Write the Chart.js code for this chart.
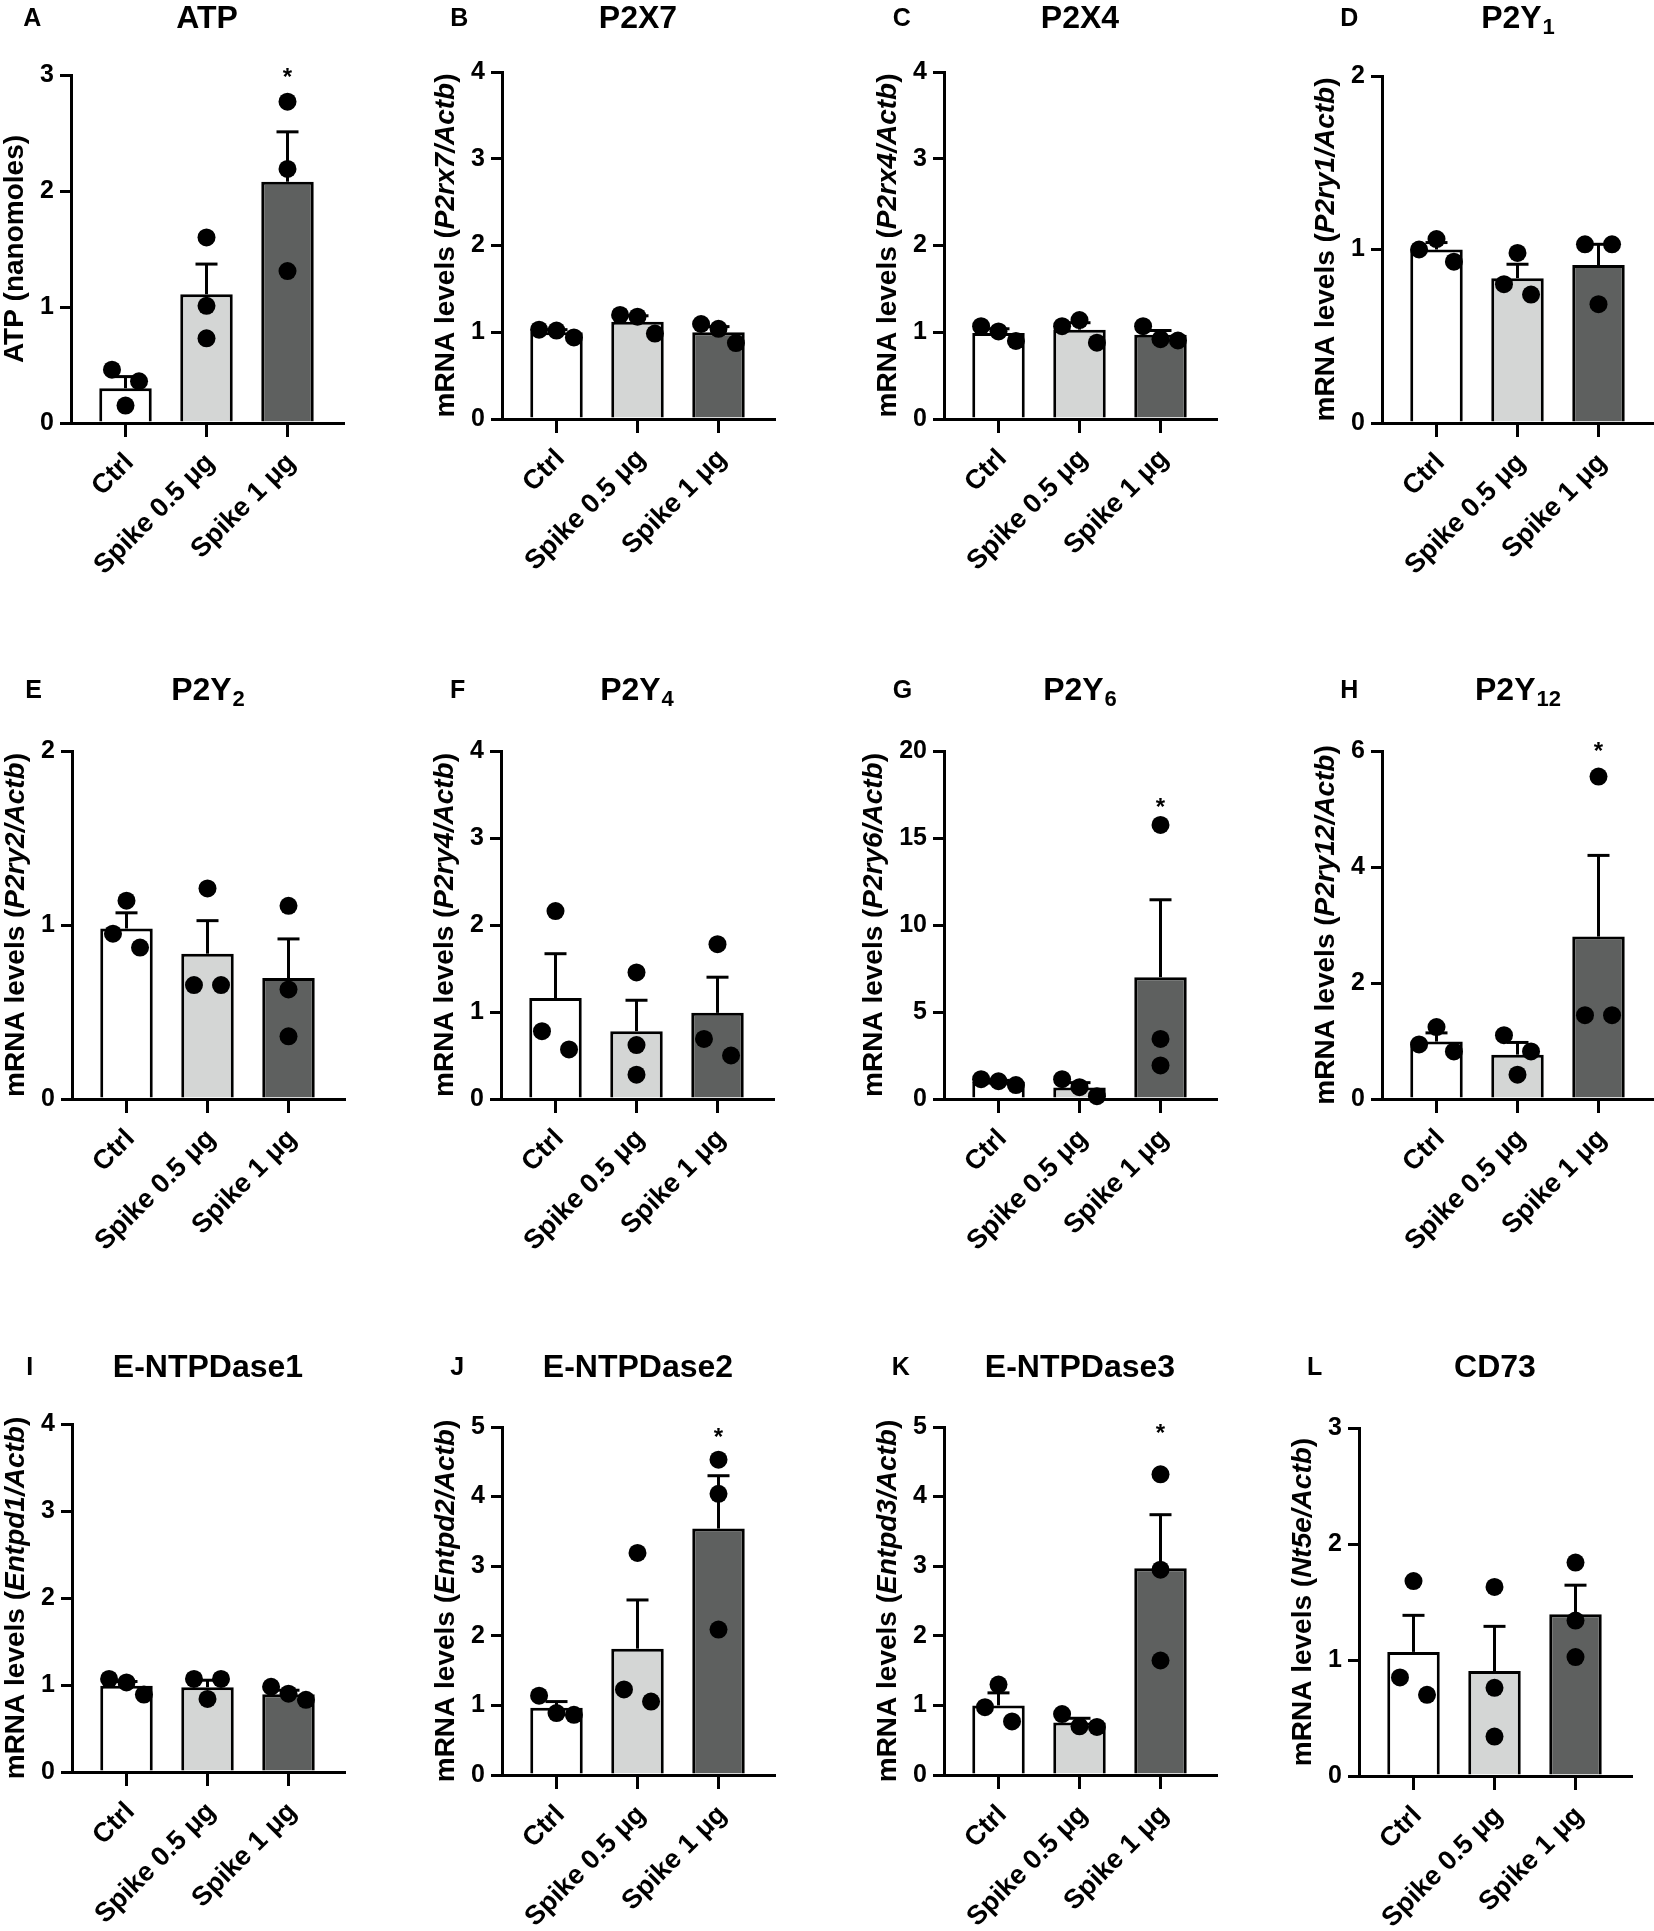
<!DOCTYPE html>
<html>
<head>
<meta charset="utf-8">
<script src="https://cdn.jsdelivr.net/npm/chart.js@4/dist/chart.umd.min.js"></script>
<style>
html,body{margin:0;padding:0;background:#fff;}
body{position:relative;width:1654px;height:1931px;overflow:hidden;}
.panel{position:absolute;}
.panel canvas{display:block;}
</style>
</head>
<body>
<script>
// ---------------- DATA ----------------
const groups = ['Ctrl', 'Spike 0.5 μg', 'Spike 1 μg'];

// A: ATP
const atpTicks  = [0, 1, 2, 3];
const atpMeans  = [0.30, 1.11, 2.08];
const atpSem    = [0.10, 0.26, 0.43];
const atpPoints = [[0.46, 0.15, 0.36], [1.60, 1.01, 0.73], [2.77, 2.19, 1.31]];
const atpStars  = [null, null, 3.03];

// B: P2X7
const p2x7Ticks  = [0, 1, 2, 3, 4];
const p2x7Means  = [1.00, 1.12, 1.00];
const p2x7Sem    = [0.03, 0.07, 0.065];
const p2x7Points = [[1.03, 1.02, 0.94], [1.20, 1.18, 0.985], [1.095, 1.04, 0.875]];
const p2x7Stars  = [null, null, null];

// C: P2X4
const p2x4Ticks  = [0, 1, 2, 3, 4];
const p2x4Means  = [0.99, 1.03, 0.97];
const p2x4Sem    = [0.05, 0.08, 0.05];
const p2x4Points = [[1.07, 1.01, 0.90], [1.07, 1.14, 0.88], [1.07, 0.92, 0.905]];
const p2x4Stars  = [null, null, null];

// D: P2Y1
const p2y1Ticks  = [0, 1, 2];
const p2y1Means  = [1.00, 0.835, 0.91];
const p2y1Sem    = [0.04, 0.08, 0.12];
const p2y1Points = [[1.00, 1.06, 0.93], [0.80, 0.98, 0.74], [1.03, 0.685, 1.03]];
const p2y1Stars  = [null, null, null];

// E: P2Y2
const p2y2Ticks  = [0, 1, 2];
const p2y2Means  = [0.98, 0.835, 0.695];
const p2y2Sem    = [0.09, 0.19, 0.225];
const p2y2Points = [[0.95, 1.14, 0.87], [0.655, 1.21, 0.655], [1.11, 0.63, 0.36]];
const p2y2Stars  = [null, null, null];

// F: P2Y4
const p2y4Ticks  = [0, 1, 2, 3, 4];
const p2y4Means  = [1.16, 0.78, 0.99];
const p2y4Sem    = [0.51, 0.355, 0.41];
const p2y4Points = [[0.78, 2.16, 0.57], [1.455, 0.62, 0.28], [0.69, 1.78, 0.50]];
const p2y4Stars  = [null, null, null];

// G: P2Y6
const p2y6Ticks  = [0, 5, 10, 15, 20];
const p2y6Means  = [0.99, 0.66, 7.0];
const p2y6Sem    = [0.08, 0.28, 4.45];
const p2y6Points = [[1.14, 1.02, 0.80], [1.14, 0.68, 0.16], [15.75, 3.45, 1.93]];
const p2y6Stars  = [null, null, 17.1];

// H: P2Y12
const p2y12Ticks  = [0, 2, 4, 6];
const p2y12Means  = [0.99, 0.765, 2.80];
const p2y12Sem    = [0.15, 0.21, 1.40];
const p2y12Points = [[0.94, 1.24, 0.82], [1.10, 0.42, 0.82], [1.445, 5.56, 1.445]];
const p2y12Stars  = [null, null, 6.1];

// I: E-NTPDase1
const entpd1Ticks  = [0, 1, 2, 3, 4];
const entpd1Means  = [0.99, 0.975, 0.895];
const entpd1Sem    = [0.05, 0.08, 0.045];
const entpd1Points = [[1.07, 1.03, 0.89], [1.07, 1.07, 0.84], [0.98, 0.90, 0.83]];
const entpd1Stars  = [null, null, null];

// J: E-NTPDase2
const entpd2Ticks  = [0, 1, 2, 3, 4, 5];
const entpd2Means  = [0.965, 1.815, 3.54];
const entpd2Sem    = [0.09, 0.70, 0.76];
const entpd2Points = [[1.14, 0.89, 0.865], [1.23, 3.19, 1.055], [4.53, 4.04, 2.09]];
const entpd2Stars  = [null, null, 4.94];

// K: E-NTPDase3
const entpd3Ticks  = [0, 1, 2, 3, 4, 5];
const entpd3Means  = [1.00, 0.755, 2.97];
const entpd3Sem    = [0.18, 0.06, 0.77];
const entpd3Points = [[0.975, 1.30, 0.77], [0.875, 0.70, 0.69], [4.32, 2.95, 1.645]];
const entpd3Stars  = [null, null, 4.99];

// L: CD73
const cd73Ticks  = [0, 1, 2, 3];
const cd73Means  = [1.07, 0.905, 1.395];
const cd73Sem    = [0.315, 0.385, 0.25];
const cd73Points = [[0.85, 1.68, 0.70], [1.63, 0.76, 0.34], [1.84, 1.34, 1.025]];
const cd73Stars  = [null, null, null];

// ---------------- PANELS ----------------
const panels = [
  {id:'A', title:'ATP',        sub:'',   yTitle:[['ATP (nanomoles)', false]], ticks:atpTicks, means:atpMeans, sem:atpSem, points:atpPoints, stars:atpStars},
  {id:'B', title:'P2X7',       sub:'',   yTitle:[['mRNA levels (', false], ['P2rx7/Actb', true], [')', false]], ticks:p2x7Ticks, means:p2x7Means, sem:p2x7Sem, points:p2x7Points, stars:p2x7Stars},
  {id:'C', title:'P2X4',       sub:'',   yTitle:[['mRNA levels (', false], ['P2rx4/Actb', true], [')', false]], ticks:p2x4Ticks, means:p2x4Means, sem:p2x4Sem, points:p2x4Points, stars:p2x4Stars},
  {id:'D', title:'P2Y',        sub:'1',  yTitle:[['mRNA levels (', false], ['P2ry1/Actb', true], [')', false]], ticks:p2y1Ticks, means:p2y1Means, sem:p2y1Sem, points:p2y1Points, stars:p2y1Stars},
  {id:'E', title:'P2Y',        sub:'2',  yTitle:[['mRNA levels (', false], ['P2ry2/Actb', true], [')', false]], ticks:p2y2Ticks, means:p2y2Means, sem:p2y2Sem, points:p2y2Points, stars:p2y2Stars},
  {id:'F', title:'P2Y',        sub:'4',  yTitle:[['mRNA levels (', false], ['P2ry4/Actb', true], [')', false]], ticks:p2y4Ticks, means:p2y4Means, sem:p2y4Sem, points:p2y4Points, stars:p2y4Stars},
  {id:'G', title:'P2Y',        sub:'6',  yTitle:[['mRNA levels (', false], ['P2ry6/Actb', true], [')', false]], ticks:p2y6Ticks, means:p2y6Means, sem:p2y6Sem, points:p2y6Points, stars:p2y6Stars},
  {id:'H', title:'P2Y',        sub:'12', yTitle:[['mRNA levels (', false], ['P2ry12/Actb', true], [')', false]], ticks:p2y12Ticks, means:p2y12Means, sem:p2y12Sem, points:p2y12Points, stars:p2y12Stars},
  {id:'I', title:'E-NTPDase1', sub:'',   yTitle:[['mRNA levels (', false], ['Entpd1/Actb', true], [')', false]], ticks:entpd1Ticks, means:entpd1Means, sem:entpd1Sem, points:entpd1Points, stars:entpd1Stars},
  {id:'J', title:'E-NTPDase2', sub:'',   yTitle:[['mRNA levels (', false], ['Entpd2/Actb', true], [')', false]], ticks:entpd2Ticks, means:entpd2Means, sem:entpd2Sem, points:entpd2Points, stars:entpd2Stars},
  {id:'K', title:'E-NTPDase3', sub:'',   yTitle:[['mRNA levels (', false], ['Entpd3/Actb', true], [')', false]], ticks:entpd3Ticks, means:entpd3Means, sem:entpd3Sem, points:entpd3Points, stars:entpd3Stars},
  {id:'L', title:'CD73',       sub:'',   yTitle:[['mRNA levels (', false], ['Nt5e/Actb', true], [')', false]], ticks:cd73Ticks, means:cd73Means, sem:cd73Sem, points:cd73Points, stars:cd73Stars}
];

// ---------------- LAYOUT (page pixels) ----------------
const layout = {
  A:{axisX:70.7,  yTop:74.6,   y0:422.1,  letterX:23,   titleY:28},
  B:{axisX:501.7, yTop:71.6,   y0:418.2,  letterX:450,  titleY:28},
  C:{axisX:944.3, yTop:71.6,   y0:418.2,  letterX:893,  titleY:28},
  D:{axisX:1381.7,yTop:75.8,   y0:423.2,  letterX:1340, titleY:28},
  E:{axisX:71.7,  yTop:750.9,  y0:1098.9, letterX:25,   titleY:700},
  F:{axisX:501,   yTop:750.9,  y0:1098.9, letterX:450,  titleY:700},
  G:{axisX:944.3, yTop:750.9,  y0:1098.9, letterX:893,  titleY:700},
  H:{axisX:1381.7,yTop:750.9,  y0:1098.9, letterX:1340, titleY:700},
  I:{axisX:71.7,  yTop:1423.9, y0:1771.9, letterX:26,   titleY:1377},
  J:{axisX:501.7, yTop:1427,   y0:1775.4, letterX:450,  titleY:1377},
  K:{axisX:944.3, yTop:1427,   y0:1775.4, letterX:892,  titleY:1377},
  L:{axisX:1359,  yTop:1427.7, y0:1775.4, letterX:1307, titleY:1377}
};

const CAT_PX = 81;               // px between categories
const FIRST_PX = 54.5;           // px from y-axis to first category
const PLOT_W = 272;              // px width of x-axis
const FONT = "'Liberation Sans', Arial, Helvetica, sans-serif";
const COLORS = ['#ffffff', '#d4d6d5', '#5e605f'];
const TICK_FONT = 25;

Chart.defaults.font.family = FONT;
Chart.defaults.color = '#000';

// horizontal spread of overlapping dots (Prism-like scatter)
function spreadOffsets(values, yMax, plotH) {
  const thr = 19.5 * yMax / plotH;
  const idx = values.map((v, i) => i).sort((a, b) => values[b] - values[a]);
  const clusters = [];
  let cur = [idx[0]];
  for (let j = 1; j < idx.length; j++) {
    if (values[idx[j - 1]] - values[idx[j]] < thr) cur.push(idx[j]);
    else { clusters.push(cur); cur = [idx[j]]; }
  }
  clusters.push(cur);
  const slots = {1: [0], 2: [-0.167, 0.167], 3: [-0.215, 0, 0.215]};
  const off = new Array(values.length).fill(0);
  clusters.forEach(c => {
    c.sort((a, b) => a - b);
    c.forEach((ii, j) => { off[ii] = slots[c.length][j]; });
  });
  return off;
}

function decorPlugin(p, L) {
  return {
    id: 'decor' + p.id,
    afterDatasetDraw(chart, args) {
      if (args.index !== 0) return;
      const ctx = chart.ctx, xs = chart.scales.x, ys = chart.scales.y;
      ctx.save();
      ctx.strokeStyle = '#000';
      ctx.lineCap = 'butt';
      ctx.lineWidth = 3;
      p.means.forEach((m, i) => {
        const x = xs.getPixelForValue(i);
        const y1 = ys.getPixelForValue(m);
        const y2 = ys.getPixelForValue(m + p.sem[i]);
        ctx.beginPath(); ctx.moveTo(x, y1); ctx.lineTo(x, y2); ctx.stroke();
        ctx.beginPath(); ctx.moveTo(x - 11, y2); ctx.lineTo(x + 11, y2); ctx.stroke();
      });
      ctx.restore();
    },
    afterDraw(chart) {
      const ctx = chart.ctx, ca = chart.chartArea, xs = chart.scales.x, ys = chart.scales.y;
      const dy = ca.top - L.yTop;   // canvas y = page y + dy
      ctx.save();
      ctx.fillStyle = '#000';
      // significance stars
      ctx.font = `bold 24px ${FONT}`;
      ctx.textAlign = 'center';
      ctx.textBaseline = 'alphabetic';
      p.stars.forEach((s, i) => {
        if (s == null) return;
        ctx.fillText('*', xs.getPixelForValue(i), ys.getPixelForValue(s) + 13.7);
      });
      // panel title (with subscript)
      const tY = L.titleY + dy;
      ctx.textAlign = 'left';
      ctx.font = `bold 32px ${FONT}`;
      const w1 = ctx.measureText(p.title).width;
      ctx.font = `bold 22px ${FONT}`;
      const w2 = p.sub ? ctx.measureText(p.sub).width + 1 : 0;
      const cx = ca.left + 136;
      const x0 = cx - (w1 + w2) / 2;
      ctx.font = `bold 32px ${FONT}`;
      ctx.fillText(p.title, x0, tY);
      if (p.sub) {
        ctx.font = `bold 22px ${FONT}`;
        ctx.fillText(p.sub, x0 + w1 + 1, tY + 6);
      }
      // panel letter
      ctx.font = `bold 25px ${FONT}`;
      ctx.fillText(p.id, ca.left + (L.letterX - L.axisX), tY - 2);
      // y-axis title (mixed roman / italic)
      ctx.font = `bold ${TICK_FONT}px ${FONT}`;
      let maxW = 0;
      ys.ticks.forEach(t => { maxW = Math.max(maxW, ctx.measureText(String(t.value)).width); });
      const ux = ca.left - 17 - maxW - 24.5;
      const cy = (ca.top + ca.bottom) / 2;
      const segs = p.yTitle.map(([t, it]) => {
        const f = `${it ? 'italic ' : ''}bold 28px ${FONT}`;
        ctx.font = f;
        return {t, f, w: ctx.measureText(t).width};
      });
      const total = segs.reduce((a, s) => a + s.w, 0);
      ctx.translate(ux, cy);
      ctx.rotate(-Math.PI / 2);
      let x = -total / 2;
      segs.forEach(s => { ctx.font = s.f; ctx.fillText(s.t, x, 7.3); x += s.w; });
      ctx.restore();
    }
  };
}

function makePanel(p) {
  const L = layout[p.id];
  const plotH = L.y0 - L.yTop;
  const yMax = p.ticks[p.ticks.length - 1];
  const padTop = 80, padRight = 30, padBottom = 5, yW = 100, xH = 210;
  const W = Math.round(yW + PLOT_W + padRight);
  const H = Math.round(padTop + plotH + xH + padBottom);

  const wrap = document.createElement('div');
  wrap.className = 'panel';
  const cv = document.createElement('canvas');
  cv.width = W; cv.height = H;
  cv.style.width = W + 'px'; cv.style.height = H + 'px';
  wrap.appendChild(cv);
  document.body.appendChild(wrap);

  const xMin = -FIRST_PX / CAT_PX;
  const barData = p.means.map((m, i) => ({x: i, y: m}));
  const ptData = [];
  p.points.forEach((vals, i) => {
    const off = spreadOffsets(vals, yMax, plotH);
    vals.forEach((v, j) => ptData.push({x: i + off[j], y: v}));
  });

  const chart = new Chart(cv, {
    type: 'bar',
    data: {
      datasets: [
        {
          type: 'bar', data: barData, order: 1,
          backgroundColor: COLORS, borderColor: '#000',
          borderWidth: 3, borderSkipped: 'start',
          barPercentage: 0.648, categoryPercentage: 1
        },
        {
          type: 'scatter', data: ptData, order: 0, clip: false,
          pointRadius: 9, pointHoverRadius: 9,
          pointBackgroundColor: '#000', pointBorderWidth: 0, showLine: false
        }
      ]
    },
    options: {
      responsive: false, maintainAspectRatio: false, animation: false,
      devicePixelRatio: 1,
      events: [],
      layout: {padding: {top: padTop, right: padRight, bottom: padBottom, left: 0}},
      plugins: {legend: {display: false}, tooltip: {enabled: false}, title: {display: false}},
      scales: {
        x: {
          type: 'linear', offset: false, min: xMin, max: xMin + PLOT_W / CAT_PX, z: 1,
          afterBuildTicks: s => { s.ticks = [0, 1, 2].map(v => ({value: v})); },
          afterFit: s => { s.height = xH; },
          ticks: {
            callback: v => groups[Math.round(v)] ?? '',
            autoSkip: false, maxRotation: 45, minRotation: 45,
            padding: 10, labelOffset: 4,
            color: '#000', font: {size: 27, weight: 'bold'}
          },
          grid: {display: true, offset: false, drawOnChartArea: false, drawTicks: true, tickLength: 14,
                 tickWidth: 3, tickColor: '#000', color: '#000', lineWidth: 3},
          border: {display: true, color: '#000', width: 3}
        },
        y: {
          type: 'linear', min: 0, max: yMax, z: 1,
          afterBuildTicks: s => { s.ticks = p.ticks.map(v => ({value: v})); },
          afterFit: s => { s.width = yW; },
          ticks: {padding: 6, color: '#000', font: {size: TICK_FONT, weight: 'bold'}},
          grid: {display: true, drawOnChartArea: false, drawTicks: true, tickLength: 11,
                 tickWidth: 3, tickColor: '#000', color: '#000', lineWidth: 3},
          border: {display: true, color: '#000', width: 3}
        }
      }
    },
    plugins: [decorPlugin(p, L)]
  });

  // align x range to the measured chart area so category spacing is exact
  const ca = chart.chartArea;
  chart.options.scales.x.max = xMin + (ca.right - ca.left) / CAT_PX;
  chart.update('none');
  const ca2 = chart.chartArea;
  wrap.style.left = (L.axisX - ca2.left) + 'px';
  wrap.style.top = (L.yTop - ca2.top) + 'px';
}

panels.forEach(makePanel);
</script>
</body>
</html>
